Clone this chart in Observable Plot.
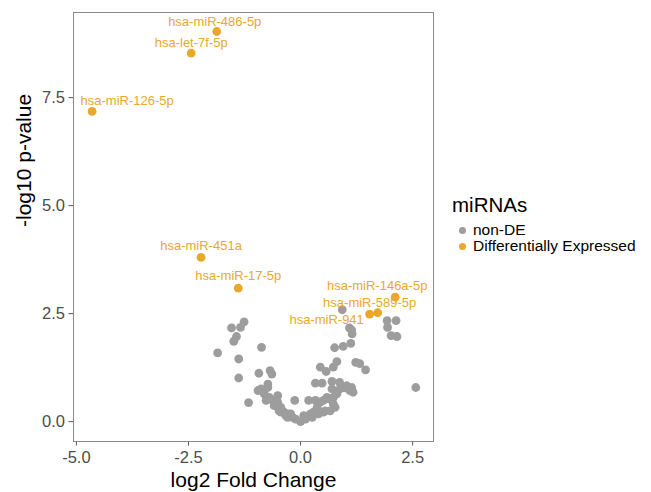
<!DOCTYPE html>
<html>
<head>
<meta charset="utf-8">
<script src="https://cdn.jsdelivr.net/npm/d3@7"></script>
<script src="https://cdn.jsdelivr.net/npm/@observablehq/plot@0.6"></script>
<style>
  html, body { margin: 0; padding: 0; background: #fff; }
  #wrap { position: relative; width: 651px; height: 492px; font-family: "Liberation Sans", Arial, Helvetica, sans-serif; }
  #chart { position: absolute; left: 0; top: 0; }
  .lg { position: absolute; white-space: nowrap; line-height: 1; }
  .dotk { position: absolute; border-radius: 50%; }
</style>
</head>
<body>
<div id="wrap">
  <div id="chart"></div>
  <div id="legend"></div>
</div>
<script>
// ---- Data ----
const greyFC = [
  -1.54, -1.26, -1.34, -1.43, -1.49, -1.85, -0.87, -1.38, -1.38, -0.93,
  -0.68, -0.64, -1.16, -0.95, -0.81, -0.70, -0.62, -0.51, -0.44, -0.37,
  -0.28, -0.18, -0.11, -0.77, -0.59, -0.48, -0.29, -0.73, -0.88, 0.00,
  0.11, 0.18, 0.29, 0.37, 0.44, 0.51, 0.62, 0.73, 0.81, 0.88,
  0.99, 1.10, 1.17, 0.73, 0.55, 0.40, 0.26, 1.03, 1.14, 0.70,
  0.59, 0.07, 0.33, 0.93, 1.09, 1.15, 1.12, 0.95, 0.76, 0.81,
  0.73, 1.23, 1.32, 1.45, 0.44, 0.57, 1.93, 2.13, 1.94, 2.02,
  2.15, 2.57, 0.87, 0.70, 0.33, 0.48, 1.14, 0.18, -0.13, -0.51,
  -0.73, -0.22, 0.22, 0.77, 0.66, 0.51, -0.33, -0.44
];
const greyP = [
  2.17, 2.31, 2.18, 1.97, 1.86, 1.59, 1.72, 1.45, 1.01, 1.12,
  1.18, 1.10, 0.44, 0.72, 0.64, 0.56, 0.49, 0.45, 0.33, 0.22,
  0.18, 0.10, 0.06, 0.49, 0.37, 0.25, 0.10, 0.79, 0.76, 0.00,
  0.06, 0.14, 0.22, 0.33, 0.45, 0.49, 0.53, 0.56, 0.64, 0.76,
  0.78, 0.72, 0.68, 0.41, 0.25, 0.18, 0.10, 0.83, 0.79, 0.76,
  0.56, 0.14, 0.49, 2.59, 2.17, 2.03, 1.81, 1.74, 1.71, 1.39,
  1.26, 1.37, 1.34, 1.20, 1.26, 1.16, 2.34, 2.34, 2.18, 1.99,
  1.97, 0.79, 0.91, 0.93, 0.89, 0.89, 2.12, 0.49, 0.49, 0.60,
  0.87, 0.18, 0.18, 0.33, 0.25, 0.22, 0.14, 0.22
];
const deNames = ["hsa-miR-486-5p", "hsa-let-7f-5p", "hsa-miR-126-5p", "hsa-miR-451a",
                 "hsa-miR-17-5p", "hsa-miR-146a-5p", "hsa-miR-589-5p", "hsa-miR-941"];
const deFC = [-1.87, -2.44, -4.65, -2.22, -1.39, 2.11, 1.72, 1.54];
const deP  = [9.03, 8.53, 7.18, 3.80, 3.09, 2.88, 2.52, 2.49];
const xTicks = [-5, -2.5, 0, 2.5];
const yTicks = [0, 2.5, 5, 7.5];
const legendLabels = ["non-DE", "Differentially Expressed"];

// label nudges (repel-like offsets, in px)
const labelDx = [-2, 0, 35, 0, 0, -18, -8, -43];
const labelDy = [-6, -6, -6, -7, -8, -7, -6, 10];

const GREY = "#9d9d9d";
const ORANGE = "#E9A82A";
const fmt = d => d3.format(".1f")(d).replace("\u2212", "-");

const grey = greyFC.map((fc, i) => ({fc, p: greyP[i]}));
const de = deNames.map((name, i) => ({name, fc: deFC[i], p: deP[i]}));

const plot = Plot.plot({
  width: 440,
  height: 492,
  marginLeft: 73,
  marginRight: 7,
  marginTop: 12,
  marginBottom: 51,
  style: {fontFamily: "'Liberation Sans', Arial, Helvetica, sans-serif", background: "#fff"},
  x: {domain: [-5.065, 2.965]},
  y: {domain: [-0.46, 9.47]},
  marks: [
    Plot.axisX({ticks: xTicks, tickFormat: fmt, tickSize: 4.5, tickPadding: 5,
                fontSize: 16.5, fill: "#4d4d4d", stroke: "#555", label: null}),
    Plot.axisY({ticks: yTicks, tickFormat: fmt, tickSize: 4.5, tickPadding: 4,
                fontSize: 16.5, fill: "#4d4d4d", stroke: "#555", label: null}),
    Plot.dot(grey, {x: "fc", y: "p", r: 4.4, fill: GREY, stroke: null}),
    Plot.dot(de, {x: "fc", y: "p", r: 4.4, fill: ORANGE, stroke: null}),
    ...de.map((d, i) => Plot.text([d], {x: "fc", y: "p", text: "name", fill: ORANGE,
                fontSize: 13, textAnchor: "middle", lineAnchor: "bottom",
                dx: labelDx[i], dy: labelDy[i]})),
    Plot.frame({stroke: "#8a8a8a", strokeWidth: 1}),
    Plot.text(["log2 Fold Change"], {frameAnchor: "bottom", lineAnchor: "bottom", dy: 45,
                fontSize: 21, fill: "#000"}),
    Plot.text(["-log10 p-value"], {frameAnchor: "left", rotate: -90, dx: -49,
                fontSize: 21, fill: "#000"})
  ]
});
document.getElementById("chart").appendChild(plot);

// Legend
const lg = document.getElementById("legend");
const title = document.createElement("div");
title.className = "lg";
title.style.cssText = "left:452px;top:194.5px;font-size:20.5px;color:#000;";
title.textContent = "miRNAs";
lg.appendChild(title);
const colors = [GREY, ORANGE];
legendLabels.forEach((lab, i) => {
  const cy = 230.7 + i * 15.5;
  const dot = document.createElement("div");
  dot.className = "dotk";
  dot.style.cssText = `left:${462 - 3.5}px;top:${cy - 3.5}px;width:7px;height:7px;background:${colors[i]};`;
  lg.appendChild(dot);
  const t = document.createElement("div");
  t.className = "lg";
  t.style.cssText = `left:473px;top:${222 + i * 15.5}px;font-size:15.5px;color:#000;`;
  t.textContent = lab;
  lg.appendChild(t);
});
</script>
</body>
</html>
